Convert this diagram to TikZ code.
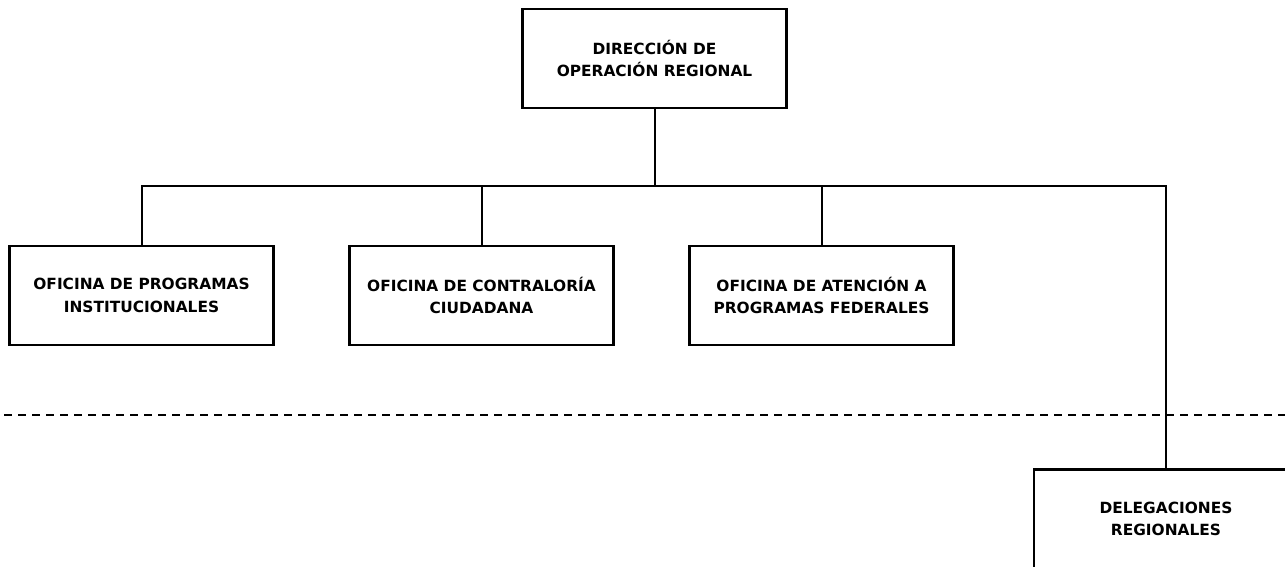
\documentclass[tikz,border=0pt]{standalone}
\usepackage{fontspec}
\setmainfont{DejaVu Sans}
\begin{document}
\begin{tikzpicture}[x=1pt,y=-1pt,
  unit/.style={draw=black, line width=2.2pt, minimum width=264pt, minimum height=99pt,
    align=center, font=\bfseries\fontsize{15.4}{22.5}\selectfont, inner sep=0pt, fill=white},
  link/.style={draw=black, line width=2pt},
  divider/.style={draw=black, line width=2pt, dash pattern=on 8pt off 6pt}]
\useasboundingbox (0,0) rectangle (1285,566);
\clip (0,0) rectangle (1285,566);
\node[unit] (dir) at (654.5,58.5) {DIRECCIÓN DE\\OPERACIÓN REGIONAL};
\node[unit] (ofi1) at (141.5,295.5) {OFICINA DE PROGRAMAS\\INSTITUCIONALES};
\node[unit] (ofi2) at (481.5,295.5) {OFICINA DE CONTRALORÍA\\CIUDADANA};
\node[unit] (ofi3) at (821.5,295.5) {OFICINA DE ATENCIÓN A\\PROGRAMAS FEDERALES};
\coordinate (dl) at (4,415);
\coordinate (dr) at (1285,415);
\draw[divider] (dl) -- (dr);
\node[unit] (del) at (1166,519) {DELEGACIONES\\REGIONALES};
\coordinate (bus) at (654.5,186);
\draw[link] (dir.south) -- (bus);
\draw[link] (ofi1.north) |- (bus) -| (del.north);
\draw[link] (ofi2.north) -- (ofi2.north |- bus);
\draw[link] (ofi3.north) -- (ofi3.north |- bus);
\end{tikzpicture}
\end{document}
